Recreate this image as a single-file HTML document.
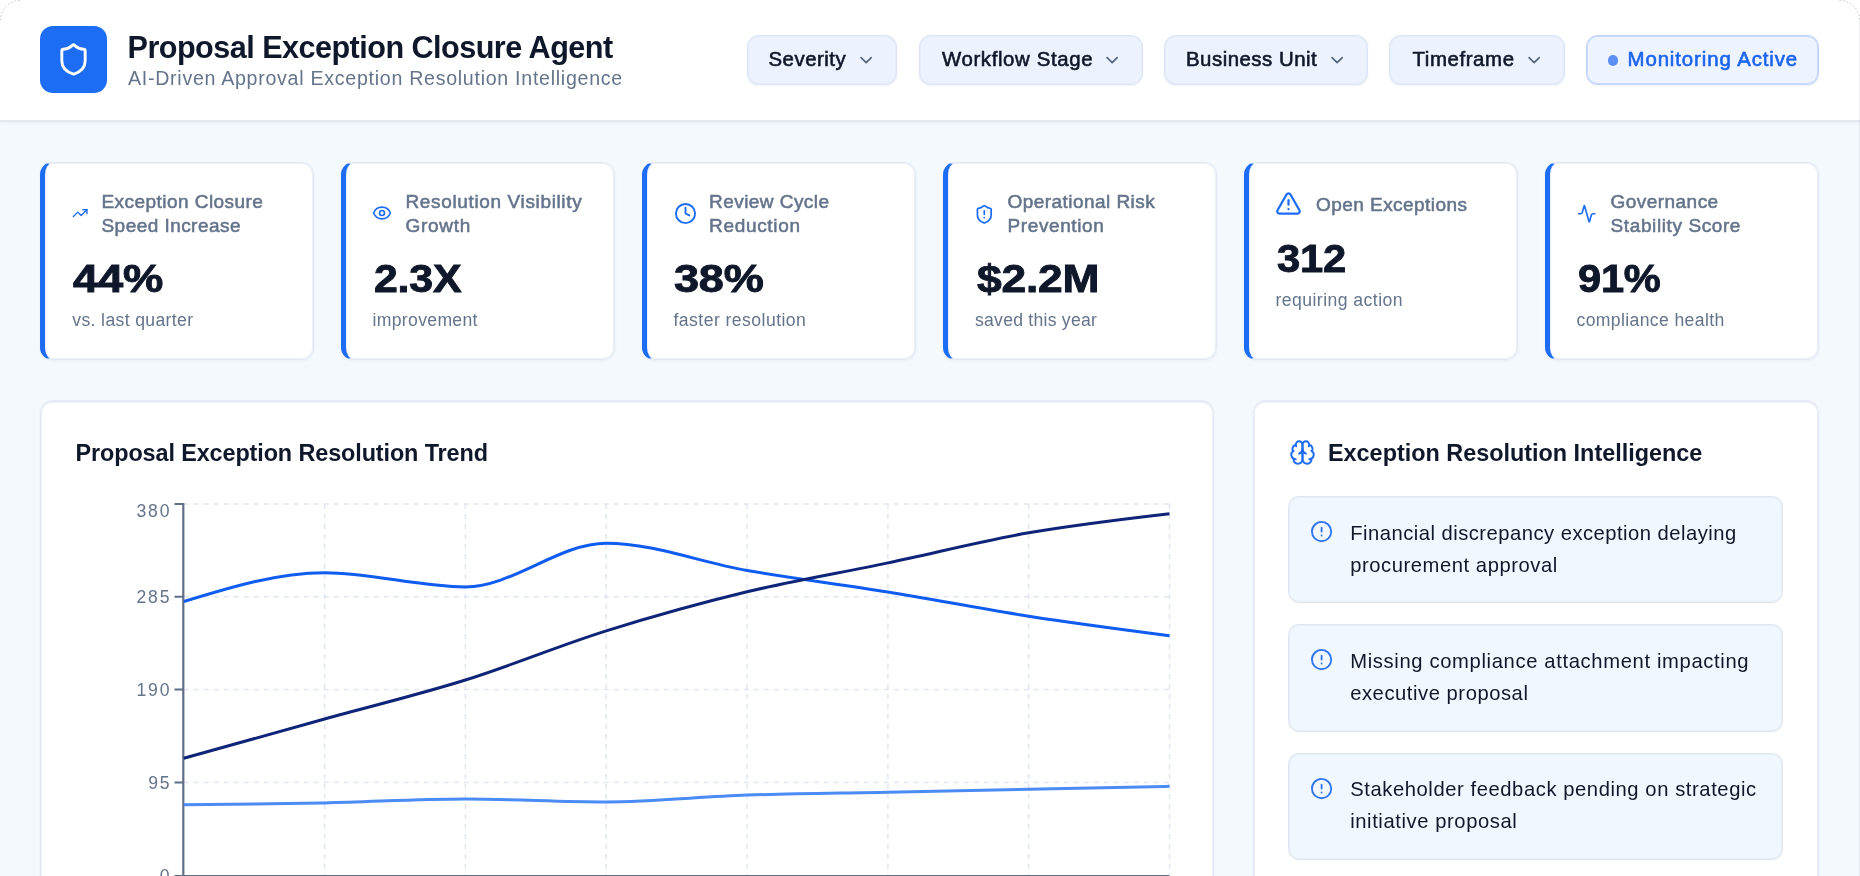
<!DOCTYPE html>
<html lang="en">
<head>
<meta charset="utf-8">
<title>Proposal Exception Closure Agent</title>
<style>
*{box-sizing:border-box;margin:0;padding:0}
html,body{width:1860px;height:876px;overflow:hidden}
body{position:relative;background:#f4f9fe;font-family:"Liberation Sans",sans-serif;color:#0f172a;-webkit-font-smoothing:antialiased}
#app{position:absolute;left:0;top:0;width:1860px;height:876px;overflow:hidden;will-change:transform}
.abs{position:absolute}
svg{display:block;overflow:visible}
.ic{position:absolute;fill:none;stroke-linecap:round;stroke-linejoin:round;stroke-width:2}

/* ---------- header ---------- */
header{position:absolute;left:0;top:0;width:1860px;height:122px;background:#fff;border-bottom:2px solid #e2e7f2;box-shadow:0 1px 3px rgba(30,50,100,.05)}
.logo{position:absolute;left:40.3px;top:26.4px;width:67px;height:67px;border-radius:13px;background:#1d6cf4}
.ttl{position:absolute;left:127.5px;top:30.1px;font-size:30.6px;line-height:34px;font-weight:700;color:#0f172a;white-space:nowrap;letter-spacing:-.53px}
.sub{position:absolute;left:128px;top:66px;font-size:19.6px;line-height:24px;color:#64748b;white-space:nowrap;letter-spacing:.72px}
.btn{position:absolute;top:35px;height:49.5px;border-radius:11.5px;background:#ecf3fe;border:1.5px solid #dbe5f6;box-shadow:0 1px 2px rgba(30,50,100,.06),inset 0 0 0 1px rgba(219,229,246,.5)}
.btn span{position:absolute;left:21px;top:11px;font-size:20.4px;line-height:24px;color:#0f172a;white-space:nowrap;letter-spacing:.5px;-webkit-text-stroke:.6px #0f172a}
.btn .ic{top:14px;width:20.3px;height:20.3px;stroke:#566680;stroke-width:2}
.btn.mon{background:#edf3ff;border-color:#bfd3fd;box-shadow:0 1px 2px rgba(30,50,100,.06),inset 0 0 0 1px rgba(191,211,253,.8)}
.btn.mon span{left:40.5px;letter-spacing:.9px;color:#1a64f0;-webkit-text-stroke:.6px #1a64f0}
.btn.mon i{position:absolute;left:20.5px;top:19px;width:10.6px;height:10.6px;border-radius:50%;background:#5b8ff3}

/* ---------- KPI cards ---------- */
.kpi{position:absolute;top:162px;width:274px;height:197.5px;background:#fff;border:1.5px solid #e3e9f3;border-left:5.5px solid #1d6cf4;border-radius:12.5px;box-shadow:0 1px 3px rgba(30,50,100,.06),inset 0 0 0 1px rgba(224,230,242,.65)}
.kpi .lbl{position:absolute;font-size:19px;line-height:24.2px;color:#64748b;white-space:nowrap;letter-spacing:.45px;-webkit-text-stroke:.55px #64748b}
.kpi .val{position:absolute;left:27.5px;transform-origin:0 50%;font-size:39px;line-height:40px;font-weight:700;color:#0f172a;white-space:nowrap;letter-spacing:-.2px;-webkit-text-stroke:.9px #0f172a}
.kpi .cap{position:absolute;left:26.5px;font-size:17.6px;line-height:20px;color:#64748b;white-space:nowrap;letter-spacing:.45px}
.kpi .ic{stroke:#1d6cf4}

/* ---------- panels ---------- */
.panel{position:absolute;top:400px;height:520px;background:#fff;border:1.5px solid #e3e9f3;border-top:2px solid #e5eaf4;border-radius:12.5px;box-shadow:0 1px 3px rgba(30,50,100,.05),inset 0 0 0 1px rgba(224,230,242,.65)}
.ptitle{position:absolute;font-size:23.4px;line-height:28px;font-weight:700;color:#0f172a;white-space:nowrap;letter-spacing:.1px}
.item{position:absolute;left:34.4px;width:494.8px;height:107.4px;background:#f1f7fe;border:1.5px solid #e0e6f1;border-radius:10.5px;box-shadow:inset 0 0 0 1px rgba(224,230,242,.6)}
.item .ic{left:20.3px;top:23.1px;width:23.2px;height:23.2px;stroke:#2f74f0;stroke-width:1.9}
.item p{position:absolute;left:60.8px;top:19.7px;font-size:20.2px;line-height:32px;color:#0f172a;white-space:nowrap;letter-spacing:.42px}
.item p span{display:block}
.ax{font-size:17.6px;fill:#64748b;font-family:"Liberation Sans",sans-serif;letter-spacing:1.8px}
</style>
</head>
<body>
<div id="app">

<header>
  <div class="logo">
    <svg class="ic" style="left:16px;top:16px;width:35px;height:35px;stroke:#fff;stroke-width:2" viewBox="0 0 24 24"><path d="M20 13c0 5-3.5 7.5-7.66 8.95a1 1 0 0 1-.67-.01C7.5 20.5 4 18 4 13V6a1 1 0 0 1 1-1c2 0 4.5-1.2 6.24-2.72a1.17 1.17 0 0 1 1.52 0C14.51 3.81 17 5 19 5a1 1 0 0 1 1 1z"/></svg>
  </div>
  <h1 class="ttl">Proposal Exception Closure Agent</h1>
  <div class="sub">AI-Driven Approval Exception Resolution Intelligence</div>

  <div class="btn" style="left:746.5px;width:150.5px"><span>Severity</span><svg class="ic" style="left:108.5px" viewBox="0 0 24 24"><path d="m6 9 6 6 6-6"/></svg></div>
  <div class="btn" style="left:918.5px;width:224.5px"><span style="left:22.5px;letter-spacing:.62px">Workflow Stage</span><svg class="ic" style="left:182.5px" viewBox="0 0 24 24"><path d="m6 9 6 6 6-6"/></svg></div>
  <div class="btn" style="left:1164px;width:204px"><span>Business Unit</span><svg class="ic" style="left:162px" viewBox="0 0 24 24"><path d="m6 9 6 6 6-6"/></svg></div>
  <div class="btn" style="left:1389px;width:176px"><span style="left:22.5px;letter-spacing:.6px">Timeframe</span><svg class="ic" style="left:134px" viewBox="0 0 24 24"><path d="m6 9 6 6 6-6"/></svg></div>
  <div class="btn mon" style="left:1586px;width:233px"><i></i><span>Monitoring Active</span></div>
</header>

<main>
  <section class="kpi" style="left:40px">
    <svg class="ic" style="left:27.3px;top:41.8px;width:16.3px;height:16.3px" viewBox="0 0 24 24"><polyline points="22 7 13.5 15.5 8.5 10.5 2 17"/><polyline points="16 7 22 7 22 13"/></svg>
    <div class="lbl" style="left:56.5px;top:26.5px">Exception Closure<br>Speed Increase</div>
    <div class="val" style="top:96px;transform:scaleX(1.162)">44%</div>
    <div class="cap" style="top:146.5px;left:27.3px;letter-spacing:.36px">vs. last quarter</div>
  </section>
  <section class="kpi" style="left:341px">
    <svg class="ic" style="left:26.2px;top:39.9px;width:20px;height:20px" viewBox="0 0 24 24"><path d="M2.062 12.348a1 1 0 0 1 0-.696 10.75 10.75 0 0 1 19.876 0 1 1 0 0 1 0 .696 10.75 10.75 0 0 1-19.876 0"/><circle cx="12" cy="12" r="3"/></svg>
    <div class="lbl" style="left:59.5px;top:26.5px"><span style="letter-spacing:.64px">Resolution Visibility</span><br><span style="letter-spacing:.73px">Growth</span></div>
    <div class="val" style="top:96px;transform:scaleX(1.099)">2.3X</div>
    <div class="cap" style="top:146.5px;letter-spacing:.33px">improvement</div>
  </section>
  <section class="kpi" style="left:642px">
    <svg class="ic" style="left:26.5px;top:39px;width:23px;height:23px" viewBox="0 0 24 24"><circle cx="12" cy="12" r="10"/><polyline points="12 6 12 12 16 14"/></svg>
    <div class="lbl" style="left:62px;top:26.5px">Review Cycle<br><span style="letter-spacing:.69px">Reduction</span></div>
    <div class="val" style="top:96px;left:26.8px;transform:scaleX(1.156)">38%</div>
    <div class="cap" style="top:146.5px">faster resolution</div>
  </section>
  <section class="kpi" style="left:943px">
    <svg class="ic" style="left:25.5px;top:40.5px;width:20.6px;height:20.6px" viewBox="0 0 24 24"><path d="M20 13c0 5-3.5 7.5-7.66 8.95a1 1 0 0 1-.67-.01C7.5 20.5 4 18 4 13V6a1 1 0 0 1 1-1c2 0 4.5-1.2 6.24-2.72a1.17 1.17 0 0 1 1.52 0C14.51 3.81 17 5 19 5a1 1 0 0 1 1 1z"/><path d="M12 8v4"/><path d="M12 16h.01"/></svg>
    <div class="lbl" style="left:59.5px;top:26.5px">Operational Risk<br><span style="letter-spacing:.61px">Prevention</span></div>
    <div class="val" style="top:96px;left:28.7px;transform:scaleX(1.138)">$2.2M</div>
    <div class="cap" style="top:146.5px;left:27px;letter-spacing:.25px">saved this year</div>
  </section>
  <section class="kpi" style="left:1244px">
    <svg class="ic" style="left:26px;top:27.3px;width:27px;height:27px" viewBox="0 0 24 24"><path d="m21.73 18-8-14a2 2 0 0 0-3.48 0l-8 14A2 2 0 0 0 4 21h16a2 2 0 0 0 1.73-3"/><path d="M12 9v4"/><path d="M12 17h.01"/></svg>
    <div class="lbl" style="left:67px;top:29.5px">Open Exceptions</div>
    <div class="val" style="top:75.7px;transform:scaleX(1.07)">312</div>
    <div class="cap" style="top:127px">requiring action</div>
  </section>
  <section class="kpi" style="left:1545px">
    <svg class="ic" style="left:26.5px;top:41px;width:19.6px;height:19.6px" viewBox="0 0 24 24"><path d="M22 12h-2.48a2 2 0 0 0-1.93 1.46l-2.35 8.36a.25.25 0 0 1-.48 0L9.24 2.18a.25.25 0 0 0-.48 0l-2.35 8.36A2 2 0 0 1 4.49 12H2"/></svg>
    <div class="lbl" style="left:60.6px;top:26.5px">Governance<br><span style="letter-spacing:.6px">Stability Score</span></div>
    <div class="val" style="top:96px;transform:scaleX(1.066)">91%</div>
    <div class="cap" style="top:146.5px;letter-spacing:.37px">compliance health</div>
  </section>
  <section class="panel" style="left:40px;width:1173.5px">
    <h2 class="ptitle" style="left:34.5px;top:37px;letter-spacing:-.1px">Proposal Exception Resolution Trend</h2>
  </section>

  <!-- chart drawn in page coordinates -->
  <svg class="abs" style="left:0;top:0" width="1860" height="876" viewBox="0 0 1860 876">
    <g stroke="#dfe5f1" stroke-width="1.4" stroke-dasharray="5 5" fill="none">
      <path d="M183.8 504H1169.5M183.8 596.7H1169.5M183.8 689.5H1169.5M183.8 782.5H1169.5"/>
      <path d="M324.6 504V875M465.4 504V875M606.2 504V875M747.1 504V875M887.9 504V875M1028.7 504V875M1169.5 504V875"/>
    </g>
    <g stroke="#5f6f88" stroke-width="1.9" fill="none">
      <path d="M183.3 503.2V876" stroke-width="2.2"/><path d="M182.2 875.85H1169.5"/>
      <path d="M174.5 504H183.8M174.5 596.7H183.8M174.5 689.5H183.8M174.5 782.5H183.8M174.5 875.85H183.8"/>
    </g>
    <g class="ax" text-anchor="end">
      <text x="171.3" y="516.7">380</text>
      <text x="171.3" y="603.3">285</text>
      <text x="171.3" y="696.2">190</text>
      <text x="171.3" y="789.2">95</text>
      <text x="171.3" y="882">0</text>
    </g>
    <g fill="none" stroke-width="3" stroke-linecap="butt" stroke-linejoin="round">
      <path stroke="#4b8bf5" d="M183.80,804.87C230.74,804.38,277.68,803.89,324.61,802.91C371.55,801.94,418.49,799.01,465.43,799.01C512.37,799.01,559.30,801.94,606.24,801.94C653.18,801.94,700.12,796.73,747.06,795.10C794.00,793.47,840.93,793.15,887.87,792.17C934.81,791.19,981.75,790.21,1028.69,789.24C1075.62,788.26,1122.56,787.28,1169.50,786.31"/>
      <path stroke="#0f5cf0" d="M183.80,601.50C230.74,587.10,277.68,572.70,324.61,572.70C371.55,572.70,418.49,586.90,465.43,586.90C512.37,586.90,559.30,543.20,606.24,543.20C653.18,543.20,700.12,562.37,747.06,570.50C794.00,578.63,840.93,584.38,887.87,592.00C934.81,599.62,981.75,608.92,1028.69,616.20C1075.62,623.48,1122.56,629.59,1169.50,635.70"/>
      <path stroke="#0e2478" d="M183.80,758.30C230.74,745.17,277.68,732.05,324.61,719.00C371.55,705.95,418.49,694.68,465.43,680.00C512.37,665.32,559.30,645.60,606.24,630.90C653.18,616.20,700.12,603.13,747.06,591.80C794.00,580.47,840.93,572.73,887.87,562.90C934.81,553.07,981.75,541.00,1028.69,532.80C1075.62,524.60,1122.56,519.15,1169.50,513.70"/>
    </g>
  </svg>

  <section class="panel" style="left:1253px;width:566px">
    <svg class="ic" style="left:34.5px;top:37.1px;width:27px;height:27px;stroke:#1d6cf4;stroke-width:1.75" viewBox="0 0 24 24"><path d="M12 5a3 3 0 1 0-5.997.125 4 4 0 0 0-2.526 5.77 4 4 0 0 0 .556 6.588A4 4 0 1 0 12 18Z"/><path d="M12 5a3 3 0 1 1 5.997.125 4 4 0 0 1 2.526 5.77 4 4 0 0 1-.556 6.588A4 4 0 1 1 12 18Z"/><path d="M15 13a4.500 4.500 0 0 1-3-4 4.500 4.500 0 0 1-3 4"/><path d="M17.599 6.500a3 3 0 0 0 .399-1.375"/><path d="M6.003 5.125A3 3 0 0 0 6.401 6.500"/><path d="M3.477 10.896a4 4 0 0 1 .585-.396"/><path d="M19.938 10.500a4 4 0 0 1 .585.396"/><path d="M6 18a4 4 0 0 1-1.967-.516"/><path d="M19.967 17.484A4 4 0 0 1 18 18"/></svg>
    <h2 class="ptitle" style="left:74px;top:37px;letter-spacing:0">Exception Resolution Intelligence</h2>

    <div class="item" style="top:94px">
      <svg class="ic" viewBox="0 0 24 24"><circle cx="12" cy="12" r="10"/><line x1="12" x2="12" y1="8" y2="12"/><line x1="12" x2="12.010" y1="16" y2="16"/></svg>
      <p><span style="letter-spacing:.49px">Financial discrepancy exception delaying</span><span style="letter-spacing:.56px">procurement approval</span></p>
    </div>
    <div class="item" style="top:222.3px">
      <svg class="ic" viewBox="0 0 24 24"><circle cx="12" cy="12" r="10"/><line x1="12" x2="12" y1="8" y2="12"/><line x1="12" x2="12.010" y1="16" y2="16"/></svg>
      <p><span style="letter-spacing:.65px">Missing compliance attachment impacting</span><span style="letter-spacing:.55px">executive proposal</span></p>
    </div>
    <div class="item" style="top:350.8px">
      <svg class="ic" viewBox="0 0 24 24"><circle cx="12" cy="12" r="10"/><line x1="12" x2="12" y1="8" y2="12"/><line x1="12" x2="12.010" y1="16" y2="16"/></svg>
      <p><span style="letter-spacing:.58px">Stakeholder feedback pending on strategic</span><span style="letter-spacing:.59px">initiative proposal</span></p>
    </div>
  </section>
</main>

<svg class="abs" style="left:0;top:0;pointer-events:none" width="1860" height="876" viewBox="0 0 1860 876" fill="none" stroke="rgba(90,100,120,.34)" stroke-width="1" stroke-dasharray="1.8 1.8">
  <path d="M0.4 20.5A20 20 0 0 1 20.5 0.4"/>
  <path d="M1839.5 0.4A20 20 0 0 1 1859.6 20.5"/>
  <path d="M1859.5 20.5V876" stroke="rgba(120,130,155,.13)" stroke-dasharray="none"/>
</svg>
</div>

</body>
</html>
